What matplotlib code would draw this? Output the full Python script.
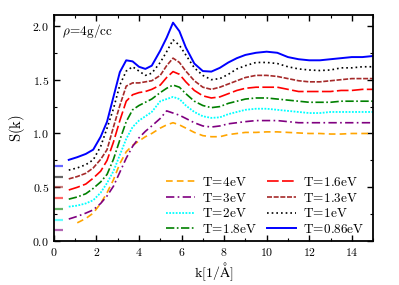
import numpy as np
import matplotlib
matplotlib.use('Agg')
import matplotlib.pyplot as plt
from matplotlib.ticker import MultipleLocator, FuncFormatter

plt.rcParams['mathtext.fontset'] = 'cm'
plt.rcParams['font.family'] = 'serif'

# k grid
k = [0.7, 1.1, 1.5, 1.85, 2.2, 2.5, 2.8, 3.1, 3.4, 3.7, 4.0, 4.3, 4.6, 5.0, 5.3,
     5.6, 5.9, 6.2, 6.6, 7.0, 7.4, 7.8, 8.2, 8.6, 9.0, 9.5, 10.0, 10.5, 11.0,
     11.5, 12.0, 12.5, 13.0, 13.5, 14.0, 14.5, 15.0]

# S(k) for each temperature (without vertical shift)
s_4 = [np.nan, 0.17, 0.21, 0.26, 0.35, 0.45, 0.57, 0.72, 0.83, 0.89, 0.93, 0.97, 1.00, 1.05, 1.08,
       1.10, 1.08, 1.05, 1.01, 0.98, 0.97, 0.97, 0.99, 1.00, 1.01, 1.01, 1.015, 1.015, 1.01,
       1.005, 1.00, 1.00, 0.995, 0.995, 1.00, 1.00, 1.00]
s_3 = [0.105, 0.13, 0.16, 0.19, 0.25, 0.32, 0.41, 0.54, 0.67, 0.78, 0.86, 0.92, 0.97, 1.04, 1.11,
       1.09, 1.07, 1.04, 1.00, 0.97, 0.96, 0.97, 0.99, 1.00, 1.01, 1.02, 1.02, 1.02, 1.01,
       1.00, 1.00, 1.00, 1.00, 1.00, 1.00, 1.00, 1.00]
s_2 = [0.12, 0.13, 0.15, 0.18, 0.25, 0.34, 0.45, 0.60, 0.75, 0.86, 0.92, 0.96, 1.00, 1.10, 1.12,
       1.14, 1.12, 1.06, 1.00, 0.96, 0.945, 0.95, 0.98, 1.00, 1.02, 1.03, 1.03, 1.02, 1.01,
       1.00, 0.99, 0.99, 1.00, 1.00, 1.00, 1.00, 1.00]
s_18 = [0.09, 0.11, 0.14, 0.19, 0.25, 0.32, 0.46, 0.64, 0.81, 0.92, 0.96, 0.99, 1.02, 1.08, 1.12,
        1.15, 1.13, 1.07, 1.00, 0.96, 0.94, 0.95, 0.98, 1.00, 1.02, 1.03, 1.03, 1.02, 1.01,
        1.00, 0.99, 0.99, 0.99, 1.00, 1.00, 1.00, 1.00]
s_16 = [0.075, 0.10, 0.13, 0.185, 0.25, 0.35, 0.52, 0.72, 0.90, 0.96, 0.98, 0.99, 1.01, 1.05, 1.12,
        1.175, 1.15, 1.08, 1.00, 0.95, 0.93, 0.94, 0.97, 1.00, 1.02, 1.03, 1.03, 1.03, 1.01,
        0.99, 0.99, 0.99, 0.99, 1.00, 1.00, 1.01, 1.01]
s_13 = [0.078, 0.10, 0.13, 0.18, 0.26, 0.35, 0.56, 0.76, 0.94, 0.97, 0.97, 0.98, 0.99, 1.04, 1.13,
        1.20, 1.16, 1.08, 0.99, 0.93, 0.91, 0.93, 0.96, 0.99, 1.02, 1.04, 1.04, 1.03, 1.01,
        0.99, 0.98, 0.98, 0.99, 1.00, 1.01, 1.01, 1.01]
s_1 = [0.06, 0.08, 0.11, 0.155, 0.28, 0.45, 0.63, 0.85, 0.98, 1.02, 0.98, 0.94, 0.96, 1.06, 1.16,
       1.27, 1.22, 1.13, 1.01, 0.94, 0.90, 0.91, 0.95, 1.00, 1.03, 1.06, 1.06, 1.05, 1.02,
       1.00, 0.99, 0.985, 0.99, 1.01, 1.01, 1.02, 1.02]
s_086 = [0.055, 0.08, 0.11, 0.15, 0.27, 0.41, 0.64, 0.87, 0.98, 0.97, 0.92, 0.90, 0.93, 1.07, 1.19,
         1.33, 1.25, 1.10, 0.95, 0.88, 0.875, 0.91, 0.96, 1.00, 1.03, 1.05, 1.06, 1.05, 1.01,
         0.99, 0.98, 0.98, 0.99, 1.00, 1.01, 1.01, 1.02]

temps = ['4', '3', '2', '1.8', '1.6', '1.3', '1', '0.86']
shifts = [0.0, 0.1, 0.2, 0.3, 0.4, 0.5, 0.6, 0.7]
curves = [s_4, s_3, s_2, s_18, s_16, s_13, s_1, s_086]

colors = ['orange', 'purple', 'cyan', 'green', 'red', 'brown', 'black', 'blue']
styles = [(0, (4, 2.5)), (0, (5, 2, 1, 2)), (0, (1, 0.8)), (0, (5, 1.5, 1, 1.5)),
          (0, (7, 2)), (0, (3, 1)), (0, (1, 1.8)), '-']
widths = [1.2, 1.2, 1.3, 1.2, 1.2, 1.2, 1.2, 1.4]

fig = plt.figure(figsize=(3.99, 2.85), dpi=100)
ax = fig.add_axes([0.135, 0.154, 0.8, 0.793])

for s, sh, t, c, ls, lw in zip(curves, shifts, temps, colors, styles, widths):
    ax.plot(k, np.array(s) + sh, color=c, linestyle=ls, linewidth=lw,
            label=r'$\mathrm{T}\!=\!\mathrm{' + t + 'eV}$')

# short marks showing the shift of each curve
ax.hlines(shifts[1:], 0, 0.42, colors=colors[1:], linewidth=1.6, alpha=0.6)

ax.set_xlim(0, 15)
ax.set_ylim(0, 2.1)
ax.xaxis.set_major_locator(MultipleLocator(2))
ax.xaxis.set_minor_locator(MultipleLocator(1))
ax.yaxis.set_major_locator(MultipleLocator(0.5))
ax.yaxis.set_minor_locator(MultipleLocator(0.25))
ax.xaxis.set_major_formatter(FuncFormatter(lambda v, p: r'$%d$' % v))
ax.yaxis.set_major_formatter(FuncFormatter(lambda v, p: r'$%.1f$' % v))
ax.tick_params(which='both', direction='in', top=True, right=True, labelsize=8.5)
ax.tick_params(which='major', length=4, width=1)
ax.tick_params(which='minor', length=2, width=0.8)
for sp in ax.spines.values():
    sp.set_linewidth(1.3)

ax.set_xlabel(r'$\mathrm{k[1/\AA]}$', fontsize=10, labelpad=1)
ax.set_ylabel(r'$\mathrm{S(k)}$', fontsize=10.5)
ax.text(0.025, 0.93, r'$\rho\!=\!\mathrm{4g/cc}$', transform=ax.transAxes, fontsize=9.5,
        va='center')

ax.legend(ncol=2, loc='lower right', frameon=False, fontsize=9.5, handlelength=2.2,
          columnspacing=0.8, labelspacing=0.2, handletextpad=0.5,
          bbox_to_anchor=(1.01, -0.03))

fig.savefig('out.png', dpi=100)
